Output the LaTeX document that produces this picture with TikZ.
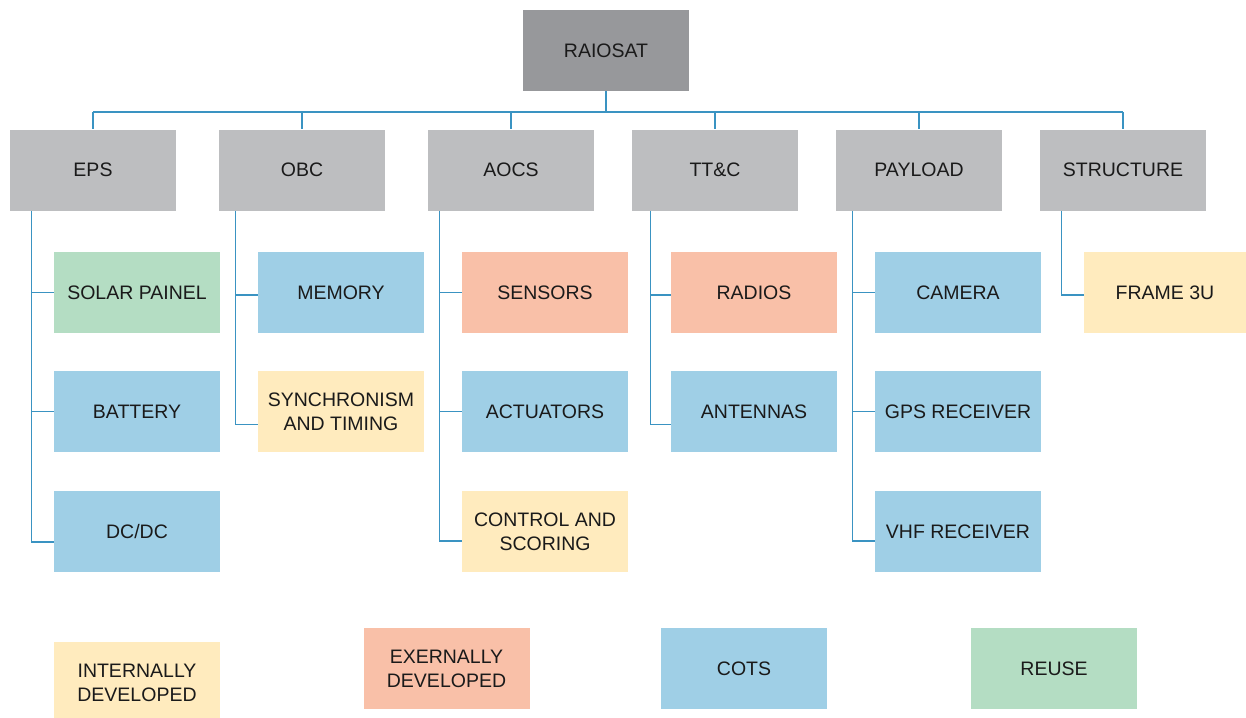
\documentclass[tikz,border=0pt]{standalone}
\usepackage{fontspec}
\setmainfont{Liberation Sans}
\definecolor{topgray}{HTML}{97989B}
\definecolor{boxgray}{HTML}{BDBEC0}
\definecolor{cotsblue}{HTML}{9FCFE6}
\definecolor{reusegreen}{HTML}{B4DDC3}
\definecolor{extsalmon}{HTML}{F9C0A8}
\definecolor{intyellow}{HTML}{FFEBBE}
\definecolor{linkblue}{HTML}{3A93C2}
\definecolor{txt}{HTML}{1A1A1A}
\tikzset{
  box/.style={minimum width=166pt, minimum height=81pt, inner sep=0pt, align=center,
    text=txt, font=\fontsize{19.5}{24}\selectfont},
  rootbox/.style={box, fill=topgray},
  subsys/.style={box, fill=boxgray},
  cots/.style={box, fill=cotsblue},
  reuse/.style={box, fill=reusegreen},
  extdev/.style={box, fill=extsalmon},
  intdev/.style={box, fill=intyellow},
  link/.style={draw=linkblue, line width=1.3pt}
}
\begin{document}
\begin{tikzpicture}[x=1pt, y=-1pt]
\useasboundingbox (0,0) rectangle (1246,717);
\clip (0,0) rectangle (1246,717);
% root
\node[rootbox] (root) at (606,50.5) {RAIOSAT};
% subsystems
\node[subsys] (eps) at (93,170) {EPS};
\node[subsys] (obc) at (302,170) {OBC};
\node[subsys] (aocs) at (511,170) {AOCS};
\node[subsys] (ttc) at (715,170) {TT\&C};
\node[subsys] (pay) at (919,170) {PAYLOAD};
\node[subsys] (str) at (1123,170) {STRUCTURE};
% children
\node[reuse] (solar) at (137,292.5) {SOLAR PAINEL};
\node[cots] (batt) at (137,411.5) {BATTERY};
\node[cots] (dcdc) at (137,531.5) {DC/DC};
\node[cots] (mem) at (341,292.5) {MEMORY};
\node[intdev] (sync) at (341,411.5) {SYNCHRONISM\\AND TIMING};
\node[extdev] (sens) at (545,292.5) {SENSORS};
\node[cots] (act) at (545,411.5) {ACTUATORS};
\node[intdev] (ctrl) at (545,531.5) {CONTROL AND\\SCORING};
\node[extdev] (rad) at (754,292.5) {RADIOS};
\node[cots] (ant) at (754,411.5) {ANTENNAS};
\node[cots] (cam) at (958,292.5) {CAMERA};
\node[cots] (gps) at (958,411.5) {GPS RECEIVER};
\node[cots] (vhf) at (958,531.5) {VHF RECEIVER};
\node[intdev, minimum width=162pt] (frame) at (1165,292.5) {FRAME 3U};
% legend
\node[intdev] (lint) at (137,682.5) {INTERNALLY\\DEVELOPED};
\node[extdev] (lext) at (446.5,668.5) {EXERNALLY\\DEVELOPED};
\node[cots] (lcots) at (744,668.5) {COTS};
\node[reuse] (lreuse) at (1054,668.5) {REUSE};
% bus
\coordinate (bus) at (0,112);
\draw[link] (root.south) -- (root.south |- bus);
\draw[link] (eps.north |- bus) -- (str.north |- bus);
\foreach \n in {eps,obc,aocs,ttc,pay,str}{
  \draw[link] (\n.north |- bus) -- (\n.north);
}
% child links
\draw[link] ([xshift=22pt]eps.south west) |- ([yshift=-10.5pt]dcdc.west);
\draw[link] ([xshift=22pt]eps.south west |- solar.west) -- (solar.west);
\draw[link] ([xshift=22pt]eps.south west |- batt.west) -- (batt.west);
\draw[link] ([xshift=17pt]obc.south west) |- ([yshift=-13pt]sync.west);
\draw[link] ([xshift=17pt]obc.south west |- mem.west) ++(0,2.5) -- ([yshift=-2.5pt]mem.west);
\draw[link] ([xshift=12pt]aocs.south west) |- ([yshift=-9.5pt]ctrl.west);
\draw[link] ([xshift=12pt]aocs.south west |- sens.west) -- (sens.west);
\draw[link] ([xshift=12pt]aocs.south west |- act.west) -- (act.west);
\draw[link] ([xshift=19pt]ttc.south west) |- ([yshift=-13pt]ant.west);
\draw[link] ([xshift=19pt]ttc.south west |- rad.west) ++(0,2.5) -- ([yshift=-2.5pt]rad.west);
\draw[link] ([xshift=17pt]pay.south west) |- ([yshift=-9.5pt]vhf.west);
\draw[link] ([xshift=17pt]pay.south west |- cam.west) -- (cam.west);
\draw[link] ([xshift=17pt]pay.south west |- gps.west) -- (gps.west);
\draw[link] ([xshift=22pt]str.south west) |- ([yshift=-2.5pt]frame.west);
\end{tikzpicture}
\end{document}
